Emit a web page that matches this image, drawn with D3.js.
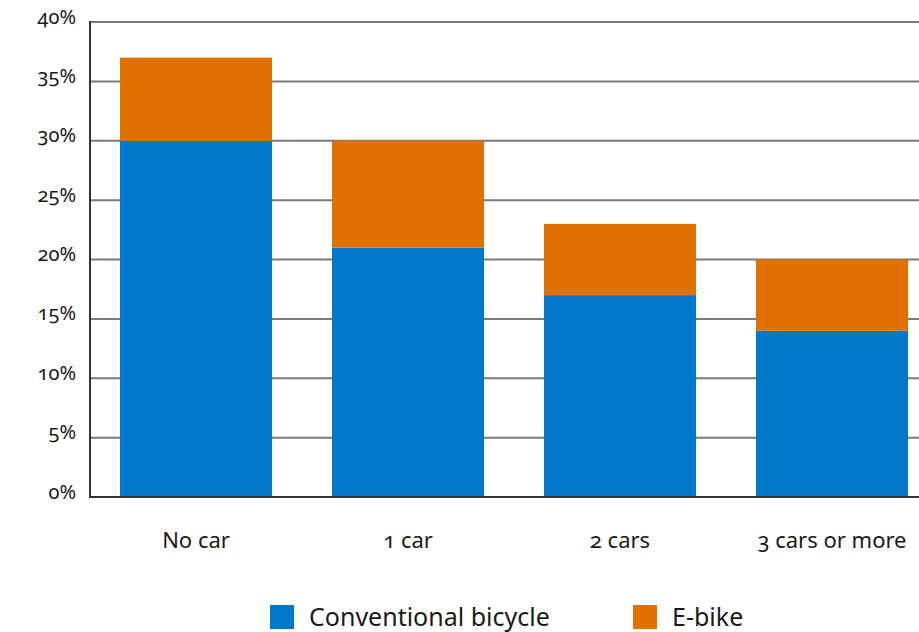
<!DOCTYPE html>
<html>
<head>
<meta charset="utf-8">
<script src="https://cdn.jsdelivr.net/npm/d3@7"></script>
<style>
  body { margin: 0; background: #fff; }
  svg text { font-family: "Noto Sans", "Open Sans", sans-serif; fill: #1a1a1a; font-variant-numeric: oldstyle-nums; }
</style>
</head>
<body>
<div id="vis"></div>
<script>
// chart data
var categories = ['No car', '1 car', '2 cars', '3 cars or more'];
var conventional = [30, 21, 17, 14];
var ebike = [7, 9, 6, 6];
var seriesNames = ['Conventional bicycle', 'E-bike'];
var yTicks = [0, 5, 10, 15, 20, 25, 30, 35, 40];

var colors = ['#0077c8', '#e07000'];

var width = 919, height = 632;
var margin = { top: 22, left: 90, bottom: 135 };
var plotRight = 938; // plot runs off the right edge, as in the original

var svg = d3.select('#vis').append('svg')
    .attr('width', width)
    .attr('height', height);

var xScale = d3.scaleBand()
    .domain(categories)
    .range([margin.left, plotRight])
    .paddingInner(60 / 212)
    .paddingOuter(30 / 212);

var yScale = d3.scaleLinear()
    .domain([0, 40])
    .range([height - margin.bottom, margin.top]);

// gridlines
svg.append('g')
    .selectAll('line')
    .data(yTicks.filter(function(d) { return d > 0; }))
    .enter().append('line')
    .attr('x1', margin.left)
    .attr('x2', plotRight)
    .attr('y1', function(d) { return yScale(d); })
    .attr('y2', function(d) { return yScale(d); })
    .attr('stroke', '#7a7a7a')
    .attr('stroke-width', 2);

// stacked bars
var rows = categories.map(function(c, i) {
    return { cat: c, conventional: conventional[i], ebike: ebike[i] };
});
var stack = d3.stack().keys(['conventional', 'ebike'])(rows);

svg.append('g')
    .selectAll('g')
    .data(stack)
    .enter().append('g')
    .attr('fill', function(d, i) { return colors[i]; })
    .selectAll('rect')
    .data(function(d) { return d; })
    .enter().append('rect')
    .attr('x', function(d) { return xScale(d.data.cat); })
    .attr('width', xScale.bandwidth())
    .attr('y', function(d) { return yScale(d[1]); })
    .attr('height', function(d) { return yScale(d[0]) - yScale(d[1]); });

// y axis
var yAxis = d3.axisLeft(yScale)
    .tickValues(yTicks)
    .tickSize(0)
    .tickPadding(14)
    .tickFormat(function(d) { return d + '%'; });

var gY = svg.append('g')
    .attr('transform', 'translate(' + margin.left + ',0)')
    .call(yAxis);
gY.select('.domain').remove();
gY.selectAll('text').attr('font-size', 20).attr('dy', '0.05em');

// axis lines
svg.append('line')
    .attr('x1', margin.left).attr('x2', margin.left)
    .attr('y1', yScale(40) - 1).attr('y2', yScale(0) + 1)
    .attr('stroke', '#333').attr('stroke-width', 2);
svg.append('line')
    .attr('x1', margin.left - 1).attr('x2', plotRight)
    .attr('y1', yScale(0)).attr('y2', yScale(0))
    .attr('stroke', '#333').attr('stroke-width', 2);

// x labels
var xAxis = d3.axisBottom(xScale).tickSize(0).tickPadding(47);
var gX = svg.append('g')
    .attr('transform', 'translate(0,' + yScale(0) + ')')
    .call(xAxis);
gX.select('.domain').remove();
gX.selectAll('text').attr('font-size', 22).attr('dy', '0.2em');

// legend
var legendX = [270, 633];
var legend = svg.append('g');
seriesNames.forEach(function(name, i) {
    legend.append('rect')
        .attr('x', legendX[i]).attr('y', 605)
        .attr('width', 24).attr('height', 24)
        .attr('fill', colors[i]);
    legend.append('text')
        .attr('x', legendX[i] + 39).attr('y', 626)
        .attr('font-size', 25)
        .text(name);
});
</script>
</body>
</html>
